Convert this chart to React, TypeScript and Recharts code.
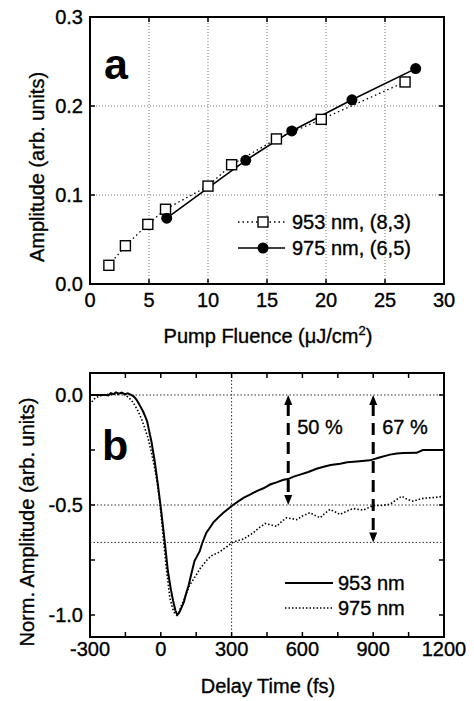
import React from 'react'
import {
  CartesianGrid,
  Customized,
  Line,
  LineChart,
  ReferenceLine,
  XAxis,
  YAxis,
} from 'recharts'

const FONT = '"Liberation Sans", Arial, Helvetica, sans-serif'

// panel a: amplitude vs pump fluence
const fluence953 = [1.6, 3.0, 4.9, 6.4, 10.0, 12.0, 15.8, 19.6, 26.7]
const amp953 = [0.021, 0.043, 0.067, 0.084, 0.11, 0.134, 0.163, 0.185, 0.227]
const fluence975 = [6.5, 13.2, 17.1, 22.2, 27.6]
const amp975 = [0.074, 0.139, 0.172, 0.207, 0.242]
const fluenceTicks = [0, 5, 10, 15, 20, 25, 30]
const ampTicks = [0, 0.1, 0.2, 0.3]
const legendA = ['953 nm, (8,3)', '975 nm, (6,5)']

// panel b: normalized transients
const delay953 = [
  -300, -260, -232, -222, -212, -200, -190, -178, -166, -152, -140, -128, -115, -104, -95, -85, -75, -65,
  -58, -50, -40, -26, -12, 2, 16, 30, 42, 52, 62, 70, 78, 88, 98, 108, 118, 130, 143, 155, 165, 175, 193,
  210, 222, 245, 265, 285, 303, 325, 350, 380, 406, 435, 463, 490, 520, 540, 560, 590, 625, 660, 690, 720,
  760, 790, 830, 886, 930, 971, 1000, 1028, 1084, 1110, 1200,
]
const norm953 = [
  0, 0, 0, -0.002, 0.008, 0.004, 0.012, 0.006, 0.011, 0.004, 0.008, 0.002, -0.006, -0.02, -0.035, -0.055,
  -0.075, -0.1, -0.12, -0.16, -0.21, -0.3, -0.41, -0.53, -0.66, -0.8, -0.88, -0.935, -0.98, -1.0, -0.99,
  -0.965, -0.94, -0.9, -0.865, -0.81, -0.754, -0.73, -0.71, -0.675, -0.626, -0.6, -0.58, -0.555, -0.535,
  -0.518, -0.502, -0.486, -0.468, -0.452, -0.437, -0.424, -0.407, -0.397, -0.385, -0.382, -0.372, -0.362,
  -0.35, -0.335, -0.326, -0.318, -0.312, -0.306, -0.302, -0.297, -0.283, -0.271, -0.266, -0.264, -0.263,
  -0.25, -0.25,
]
const delay975 = [
  -300, -290, -278, -262, -245, -230, -215, -200, -185, -170, -158, -146, -135, -124, -111, -97, -83, -68,
  -54, -40, -26, -15, -5, 9, 23, 38, 50, 60, 67, 76, 88, 100, 110, 122, 137, 152, 166, 180, 194, 210, 222,
  237, 251, 265, 280, 300, 320, 350, 372, 392, 415, 442, 465, 491, 512, 533, 555, 576, 600, 632, 655, 675,
  695, 717, 740, 759, 790, 816, 838, 858, 880, 900, 935, 971, 995, 1021, 1045, 1070, 1100, 1127, 1160, 1200,
]
const norm975 = [
  -0.045, -0.028, -0.014, -0.006, 0, 0.003, 0.001, 0.006, 0.002, 0.008, 0.003, -0.004, -0.012, -0.025,
  -0.045, -0.072, -0.106, -0.15, -0.196, -0.26, -0.332, -0.4, -0.48, -0.633, -0.784, -0.92, -0.97, -0.995,
  -1.0, -0.99, -0.955, -0.925, -0.897, -0.865, -0.84, -0.815, -0.79, -0.77, -0.752, -0.735, -0.726, -0.72,
  -0.712, -0.7, -0.69, -0.672, -0.664, -0.655, -0.64, -0.626, -0.605, -0.584, -0.59, -0.597, -0.575, -0.558,
  -0.562, -0.567, -0.55, -0.535, -0.548, -0.558, -0.538, -0.52, -0.532, -0.543, -0.527, -0.516, -0.52,
  -0.523, -0.512, -0.502, -0.502, -0.497, -0.478, -0.46, -0.475, -0.483, -0.472, -0.468, -0.466, -0.46,
]
const delayTicks = [-300, -150, 0, 150, 300, 450, 600, 750, 900, 1050, 1200]
const delayLabels = [-300, 0, 300, 600, 900, 1200]
const normTicks = [-1, -0.75, -0.5, -0.25, 0]
const normLabels = [-1, -0.5, 0]
const refLevels = [0, -0.5, -0.67]
const refDelay = 300
const arrowDelays = [540, 900]
const arrowEnds = [-0.5, -0.67]
const arrowTexts = ['50 %', '67 %']
const legendB = ['953 nm', '975 nm']

const dataA953 = fluence953.map((f, i) => ({ f, a: amp953[i] }))
const dataA975 = fluence975.map((f, i) => ({ f, a: amp975[i] }))
const dataB953 = delay953.map((t, i) => ({ t, v: norm953[i] }))
const dataB975 = delay975.map((t, i) => ({ t, v: norm975[i] }))

const tickStyle = { fill: '#000', fontSize: 20, fontFamily: FONT, stroke: '#000', strokeWidth: 0.35 }
const frame = { stroke: '#000', strokeWidth: 2 }

// plot boxes (left, top, right, bottom) that follow from the chart margins and axis sizes
const boxA = { l: 90, t: 17, r: 444, b: 284 }
const boxB = { l: 90, t: 23, r: 444, b: 287 }

const Square = (props: any) => {
  const { cx, cy, index } = props
  if (cx == null || cy == null) return <g key={index} />
  return (
    <rect key={index} x={cx - 5} y={cy - 5} width={10} height={10} fill="#fff" stroke="#000" strokeWidth={1.4} />
  )
}

// box around the plot with inward ticks on all four sides, laid over the chart
function FrameOverlay({ box, xd, xt, yd, yt, top }: any) {
  const px = (v: number) => box.l + ((v - xd[0]) / (xd[1] - xd[0])) * (box.r - box.l)
  const py = (v: number) => box.b - ((v - yd[0]) / (yd[1] - yd[0])) * (box.b - box.t)
  return (
    <svg
      width={474}
      height={box.b + 4}
      style={{ position: 'absolute', left: 0, top, pointerEvents: 'none', overflow: 'visible' }}
    >
      <rect x={box.l} y={box.t} width={box.r - box.l} height={box.b - box.t} fill="none" stroke="#000"
        strokeWidth={2} />
      {xt.map((v: number) => (
        <g key={'x' + v}>
          <line x1={px(v)} y1={box.b} x2={px(v)} y2={box.b - 5} stroke="#000" strokeWidth={1.5} />
          <line x1={px(v)} y1={box.t} x2={px(v)} y2={box.t + 5} stroke="#000" strokeWidth={1.5} />
        </g>
      ))}
      {yt.map((v: number) => (
        <g key={'y' + v}>
          <line x1={box.l} y1={py(v)} x2={box.l + 5} y2={py(v)} stroke="#000" strokeWidth={1.5} />
          <line x1={box.r} y1={py(v)} x2={box.r - 5} y2={py(v)} stroke="#000" strokeWidth={1.5} />
        </g>
      ))}
    </svg>
  )
}

const ArrowShape = (props: any) => {
  const { x1, y1, y2, text } = props
  const top = Math.min(y1, y2)
  const bot = Math.max(y1, y2)
  const x = x1
  return (
    <g>
      <line x1={x} y1={top + 9} x2={x} y2={bot - 9} stroke="#000" strokeWidth={3} strokeDasharray="12 7" />
      <polygon points={`${x},${top} ${x - 4},${top + 10} ${x + 4},${top + 10}`} fill="#000" />
      <polygon points={`${x},${bot} ${x - 4},${bot - 10} ${x + 4},${bot - 10}`} fill="#000" />
      <text x={x + 9} y={top + 39} fontSize={20} fontFamily={FONT} fill="#000" stroke="#000" strokeWidth={0.35}>
        {text}
      </text>
    </g>
  )
}

const DecorA = () => (
  <g fontFamily={FONT} fill="#000">
    <text x={104} y={79} fontSize={43} fontWeight="bold">a</text>
    <g stroke="#000" strokeWidth={0.35}>
      <text x={44} y={167} fontSize={20} textAnchor="middle" transform="rotate(-90 44 167)">
        Amplitude (arb. units)
      </text>
      <text x={268} y={343} fontSize={20} textAnchor="middle">
        Pump Fluence (μJ/cm<tspan fontSize={13} dy={-8}>2</tspan><tspan dy={8}>)</tspan>
      </text>
      <text x={292} y={229} fontSize={20}>{legendA[0]}</text>
      <text x={292} y={255} fontSize={20}>{legendA[1]}</text>
    </g>
    <line x1={238} y1={222} x2={285} y2={222} stroke="#000" strokeWidth={1.3} strokeDasharray="1.5 3" />
    <rect x={258} y={217} width={10} height={10} fill="#fff" stroke="#000" strokeWidth={1.4} />
    <line x1={238} y1={248} x2={285} y2={248} stroke="#000" strokeWidth={1.6} />
    <circle cx={263} cy={248} r={5.5} fill="#000" />
  </g>
)

const DecorB = () => (
  <g fontFamily={FONT} fill="#000">
    <text x={102} y={110} fontSize={43} fontWeight="bold">b</text>
    <g stroke="#000" strokeWidth={0.35}>
      <text x={34} y={172} fontSize={20} textAnchor="middle" transform="rotate(-90 34 172)">
        Norm. Amplitude (arb. units)
      </text>
      <text x={268} y={343} fontSize={20} textAnchor="middle">Delay Time (fs)</text>
      <text x={338} y={240} fontSize={20}>{legendB[0]}</text>
      <text x={338} y={265} fontSize={20}>{legendB[1]}</text>
    </g>
    <line x1={285} y1={233} x2={333} y2={233} stroke="#000" strokeWidth={2} />
    <line x1={285} y1={258} x2={333} y2={258} stroke="#000" strokeWidth={1.6} strokeDasharray="1.5 2" />
  </g>
)

function PanelA() {
  return (
    <LineChart width={474} height={350} margin={{ top: 17, right: 30, bottom: 0, left: 0 }}>
      <XAxis
        xAxisId="x"
        dataKey="f"
        type="number"
        domain={[0, 30]}
        ticks={fluenceTicks}
        height={66}
        tickSize={2}
        tickMargin={7}
        tick={tickStyle}
        axisLine={frame}
        tickLine={false}
      />
      <YAxis
        yAxisId="y"
        type="number"
        domain={[0, 0.3]}
        ticks={ampTicks}
        width={90}
        tickSize={2}
        tickMargin={5}
        tick={tickStyle}
        tickFormatter={(v: number) => v.toFixed(1)}
        axisLine={frame}
        tickLine={false}
      />
      <CartesianGrid xAxisId="x" yAxisId="y" stroke="#777" strokeDasharray="1 2" />
      <Line
        xAxisId="x"
        yAxisId="y"
        data={dataA953}
        dataKey="a"
        type="linear"
        stroke="#000"
        strokeWidth={1.3}
        strokeDasharray="1.5 3"
        dot={Square}
        isAnimationActive={false}
      />
      <Line
        xAxisId="x"
        yAxisId="y"
        data={dataA975}
        dataKey="a"
        type="linear"
        stroke="#000"
        strokeWidth={1.6}
        dot={{ r: 5.5, fill: '#000', stroke: '#000', strokeWidth: 0 }}
        isAnimationActive={false}
      />
      <Customized component={DecorA} />
    </LineChart>
  )
}

function PanelB() {
  return (
    <LineChart width={474} height={351} margin={{ top: 23, right: 30, bottom: 0, left: 0 }}>
      <XAxis
        xAxisId="x"
        dataKey="t"
        type="number"
        domain={[-300, 1200]}
        ticks={delayTicks}
        height={64}
        tickSize={2}
        tickMargin={3}
        tick={tickStyle}
        tickFormatter={(v: number) => (delayLabels.includes(v) ? String(v) : '')}
        axisLine={frame}
        tickLine={false}
      />
      <YAxis
        yAxisId="y"
        type="number"
        domain={[-1.1, 0.1]}
        ticks={normTicks}
        width={90}
        tickSize={2}
        tickMargin={5}
        tick={tickStyle}
        tickFormatter={(v: number) => (normLabels.includes(v) ? v.toFixed(1) : '')}
        axisLine={frame}
        tickLine={false}
      />
      {refLevels.map((y) => (
        <ReferenceLine key={y} xAxisId="x" yAxisId="y" y={y} stroke="#333" strokeDasharray="1.5 2" />
      ))}
      <ReferenceLine xAxisId="x" yAxisId="y" x={refDelay} stroke="#333" strokeDasharray="1.5 2" />
      <Line
        xAxisId="x"
        yAxisId="y"
        data={dataB975}
        dataKey="v"
        type="linear"
        stroke="#000"
        strokeWidth={1.6}
        strokeDasharray="1.5 2"
        dot={false}
        isAnimationActive={false}
      />
      <Line
        xAxisId="x"
        yAxisId="y"
        data={dataB953}
        dataKey="v"
        type="linear"
        stroke="#000"
        strokeWidth={2}
        dot={false}
        isAnimationActive={false}
      />
      {arrowDelays.map((x, i) => (
        <ReferenceLine
          key={x}
          xAxisId="x"
          yAxisId="y"
          segment={[{ x, y: 0 }, { x, y: arrowEnds[i] }]}
          shape={(p: any) => <ArrowShape {...p} text={arrowTexts[i]} />}
        />
      ))}
      <Customized component={DecorB} />
    </LineChart>
  )
}

export default function App() {
  return (
    <div style={{ position: 'absolute', left: 0, top: 0, width: 474, height: 701, background: '#fff' }}>
      <div style={{ position: 'absolute', left: 0, top: 0 }}>
        <PanelA />
      </div>
      <div style={{ position: 'absolute', left: 0, top: 350 }}>
        <PanelB />
      </div>
      <FrameOverlay box={boxA} xd={[0, 30]} xt={fluenceTicks} yd={[0, 0.3]} yt={ampTicks} top={0} />
      <FrameOverlay box={boxB} xd={[-300, 1200]} xt={delayTicks} yd={[-1.1, 0.1]} yt={normTicks} top={350} />
    </div>
  )
}
